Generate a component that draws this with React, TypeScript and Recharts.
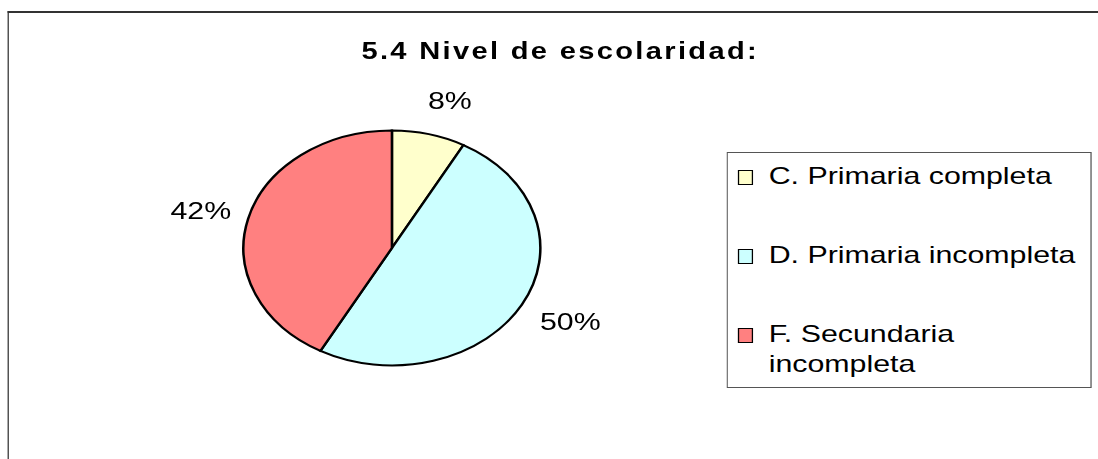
import { PieChart, Pie, Cell, Legend } from 'recharts';

// the original picture is stretched sideways, so the chart is drawn narrow and scaled in x
const STRETCH = 1.2635;
const W = 1098 / STRETCH;
const H = 459;

const categories = ['C. Primaria completa', 'D. Primaria incompleta', 'F. Secundaria incompleta'];
const shares = [8, 50, 42];
const colors = ['#FFFFCC', '#CCFFFF', '#FF8080'];

const data = categories.map((name, i) => ({ name, value: shares[i] }));

const FONT = '"Liberation Sans", Arial, sans-serif';
const RADIAN = Math.PI / 180;

const renderLabel = ({ cx, cy, midAngle, outerRadius, value }: any) => {
  const dx = Math.cos(-midAngle * RADIAN);
  const dy = Math.sin(-midAngle * RADIAN);
  const r = outerRadius + 34.5;
  const x = cx + r * dx + (dx > 0 ? 8 : -4);
  const y = cy + r * dy;
  return (
    <text x={x} y={y} textAnchor="middle" dominantBaseline="central" fill="#000" fontSize={24} fontFamily={FONT}>
      {`${value}%`}
    </text>
  );
};

const renderLegend = ({ payload }: any) => (
  <div
    style={{
      boxSizing: 'border-box',
      width: '100%',
      height: '100%',
      border: '1px solid #555',
      background: '#fff',
      paddingTop: 8,
      fontFamily: FONT,
      fontSize: 24,
      lineHeight: '30px',
      color: '#000',
    }}
  >
    {(payload || []).map((e: any, i: number) => (
      <div key={e.value} style={{ display: 'flex', alignItems: 'flex-start', marginTop: i ? 49 : 0 }}>
        <span
          style={{
            boxSizing: 'border-box',
            flex: 'none',
            width: 12.4,
            height: 14.5,
            marginLeft: 7.7,
            marginTop: 9,
            border: '1.6px solid #000',
            background: e.color,
          }}
        />
        <span style={{ marginLeft: 12.1, width: 250 }}>{e.value}</span>
      </div>
    ))}
  </div>
);

export default function App() {
  return (
    <div style={{ position: 'absolute', left: 0, top: 0, width: 1098, height: H, overflow: 'hidden', background: '#fff' }}>
      <div style={{ position: 'absolute', left: 0, top: 0, width: W, height: H, transform: `scaleX(${STRETCH})`, transformOrigin: '0 0' }}>
        <div
          style={{
            position: 'absolute',
            left: 6.3,
            top: 11,
            width: 1000,
            height: 1000,
            borderTop: '2px solid #333',
            borderLeft: '1.6px solid #333',
          }}
        />
        <div
          style={{
            position: 'absolute',
            left: 443.4 - 250,
            top: 39.5,
            width: 500,
            textAlign: 'center',
            fontFamily: FONT,
            fontWeight: 'bold',
            fontSize: 23,
            lineHeight: '23px',
            letterSpacing: 1.85,
            color: '#000',
          }}
        >
          5.4 Nivel de escolaridad:
        </div>
        <div style={{ position: 'absolute', left: 0, top: 0 }}>
          <PieChart width={W} height={H} margin={{ top: 0, right: 0, bottom: 0, left: 0 }}>
            <Pie
              data={data}
              dataKey="value"
              nameKey="name"
              cx={310.2}
              cy={248}
              outerRadius={117.5}
              startAngle={90}
              endAngle={-270}
              stroke="#000"
              strokeWidth={2}
              label={renderLabel}
              labelLine={false}
              isAnimationActive={false}
            >
              {data.map((d, i) => (
                <Cell key={d.name} fill={colors[i]} />
              ))}
            </Pie>
            <Legend
              content={renderLegend}
              wrapperStyle={{ position: 'absolute', left: 575.2, top: 152, width: 289, height: 236, bottom: 'auto', right: 'auto' }}
            />
          </PieChart>
        </div>
      </div>
    </div>
  );
}
